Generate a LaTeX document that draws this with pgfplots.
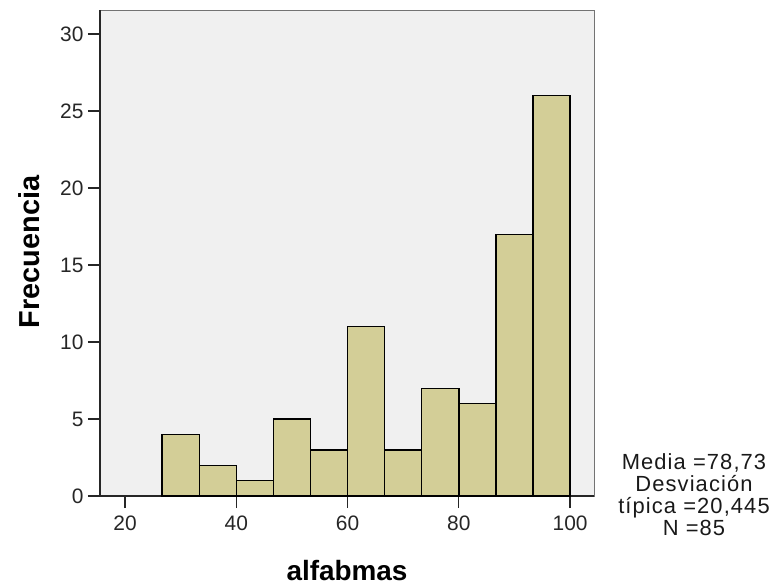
\documentclass[border=0pt]{standalone}
\usepackage{pgfplots}
\pgfplotsset{compat=1.18}
\usepackage{fontspec}
\setmainfont{Liberation Sans}
\definecolor{barfill}{HTML}{D3CE97}
\definecolor{plotbg}{HTML}{F0F0F0}
\begin{document}
\begin{tikzpicture}
\path[use as bounding box] (-100bp,-90bp) rectangle (677bp,496bp);
\begin{axis}[
  scale only axis,
  width=494bp, height=486bp,
  xmin=15.5, xmax=104.3, ymin=0, ymax=31.56,
  axis lines*=left,
  axis line style={black!85, line width=1.6bp, -},
  axis background/.style={fill=plotbg, draw=black!55, line width=0.8bp},
  xtick={20,40,60,80,100},
  ytick={0,5,10,15,20,25,30},
  tick align=outside,
  major tick length=12bp,
  tick style={black!85, line width=1.3bp},
  /pgf/number format/assume math mode=true,
  tick label style={font=\fontsize{21}{24}\selectfont, text=black!85},
  xticklabel style={yshift=-4bp},
  yticklabel style={xshift=-1bp},
  clip=false,
]
\addplot[ybar interval, fill=barfill, draw=black, line width=1.4bp]
  coordinates {
  (26.667,4) (33.333,2) (40,1) (46.667,5) (53.333,3) (60,11)
  (66.667,3) (73.333,7) (80,6) (86.667,17) (93.333,26) (100,26)
  };
\end{axis}
\node[rotate=90, font=\fontsize{29}{32}\selectfont\bfseries] at (-71bp,244bp) {Frecuencia};
\node[anchor=base, font=\fontsize{28}{32}\selectfont\bfseries] at (247bp,-84bp) {alfabmas};
\node[align=center, font=\fontsize{22}{22}\selectfont\addfontfeature{LetterSpace=5}, text=black!90, inner sep=0pt] at (594bp,1bp)
  {Media =78,73\\Desviación\\típica =20,445\\N =85};
\end{tikzpicture}
\end{document}
